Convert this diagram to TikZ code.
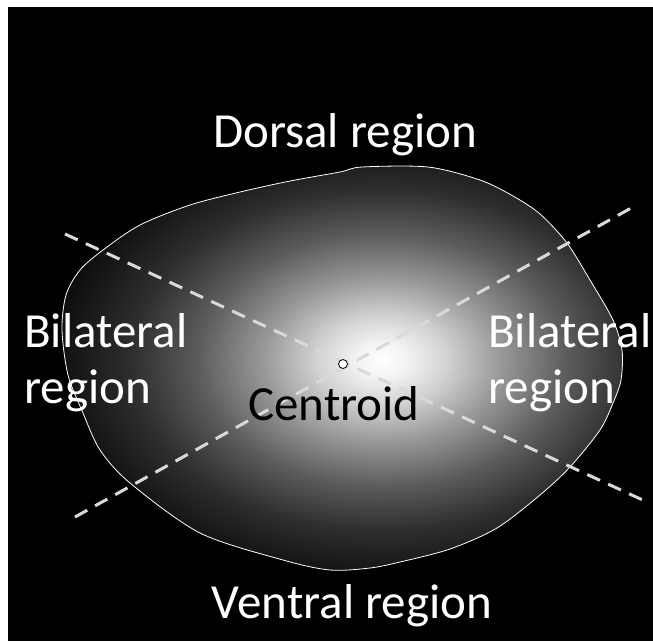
\documentclass[tikz,border=0pt]{standalone}
\usepackage{fontspec}
\setmainfont{Carlito}
% glow of the cross section, 25bp is the rim of the shaded ellipse
\pgfdeclareradialshading{glow}{\pgfpoint{0bp}{0bp}}{%
  color(0bp)=(white); color(2bp)=(white!95!black); color(5bp)=(white!82!black);
  color(9bp)=(white!60!black); color(14bp)=(white!36!black);
  color(19bp)=(white!18!black); color(25bp)=(white!5!black); color(50bp)=(black)}
\begin{document}
\begin{tikzpicture}[x=1pt, y=-1pt, font=\fontsize{49}{56}\selectfont,
    region/.style={text=white, inner sep=0pt, align=left},
    axis/.style={white!85!black, line width=3pt, dash pattern=on 14pt off 9pt}]
    % frame
    \useasboundingbox (0,0) rectangle (653,641);
    \fill[white] (0,0) rectangle (653,641);
    \fill[black] (8,7) rectangle (653,641);
    % the section with its shading
    \begin{scope}
        \clip plot[smooth cycle] coordinates {(62,330) (66,295) (80,270) (103,250) (140,225)
            (190,205) (240,192) (290,181) (340,172) (362,167) (428,167) (480,180)
            (513,196) (540,214) (567,243) (590,280) (613,320) (622,350) (621,380)
            (613,403) (600,430) (570,467) (540,495) (497,528) (450,549) (400,562)
            (370,568) (330,570) (283,560) (200,533) (130,483) (100,450) (83,413)
            (68,375)};
        \shade[shading=glow] (382,360) ellipse [x radius=330, y radius=225];
    \end{scope}
    \draw[white, line width=0.8pt] plot[smooth cycle] coordinates {(62,330) (66,295) (80,270)
        (103,250) (140,225) (190,205) (240,192) (290,181) (340,172) (362,167) (428,167)
        (480,180) (513,196) (540,214) (567,243) (590,280) (613,320) (622,350) (621,380)
        (613,403) (600,430) (570,467) (540,495) (497,528) (450,549) (400,562) (370,568)
        (330,570) (283,560) (200,533) (130,483) (100,450) (83,413) (68,375)};
    % dividing lines through the centroid
    \coordinate (ul) at (65,234);
    \coordinate (lr) at (647,502);
    \coordinate (ll) at (75,517);
    \coordinate (ur) at (633,207);
    \draw[axis] (ul) -- (lr);
    \draw[axis] (ll) -- (ur);
    \node[draw=black, fill=white, circle, inner sep=0pt, minimum size=9pt, line width=0.8pt] (centroid) at (343,364) {};
    % labels
    \node[region, anchor=base] (dorsal) at (345,147) {Dorsal region};
    \node[region, anchor=base] (ventral) at (352,618) {Ventral region};
    \node[region, anchor=base west] (left) at (24,403) {Bilateral\\region};
    \node[region, anchor=base west] (right) at (488,403) {Bilateral\\region};
    \node[inner sep=0pt, anchor=base] (ctext) at (334,420) {Centroid};
\end{tikzpicture}
\end{document}
